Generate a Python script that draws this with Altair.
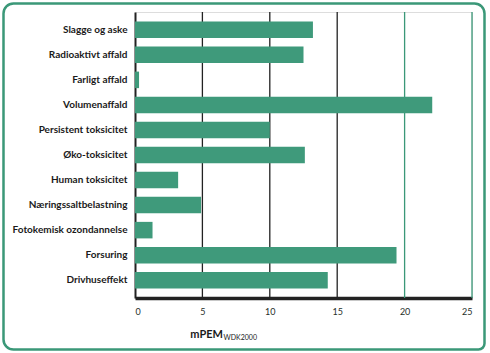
import altair as alt
import pandas as pd

categories = ["Slagge og aske", "Radioaktivt affald", "Farligt affald", "Volumenaffald",
              "Persistent toksicitet", "Øko-toksicitet", "Human toksicitet",
              "Næringssaltbelastning", "Fotokemisk ozondannelse", "Forsuring", "Drivhuseffekt"]
values = [13.2, 12.5, 0.3, 22.05, 10.0, 12.6, 3.2, 4.9, 1.3, 19.4, 14.3]
grid_values = [5, 10, 15, 20, 25]
grid_colors = ["#222222", "#222222", "#222222", "#3b9878", "#3b9878"]
tick_values = [0, 5, 10, 15, 20, 25]

GREEN = "#3f9a7b"
FONT = "Lato"

df = pd.DataFrame({"cat": categories, "val": values})
gdf = pd.DataFrame({"g": grid_values, "c": grid_colors})

xscale = alt.Scale(domain=[0, 25], nice=False, zero=True)

grid = alt.Chart(gdf).mark_rule(strokeWidth=1.3).encode(
    x=alt.X("g:Q", scale=xscale),
    color=alt.Color("c:N", scale=None, legend=None),
)

bars = alt.Chart(df).mark_bar(color=GREEN).encode(
    x=alt.X("val:Q", scale=xscale,
            axis=alt.Axis(values=tick_values, title=None, grid=False, ticks=False,
                          labelFont=FONT, labelFontSize=9, labelColor="#1f2f2a",
                          labelPadding=9, domainColor="#222222", domainWidth=3.5)),
    y=alt.Y("cat:N", sort=categories,
            scale=alt.Scale(paddingInner=0.34, paddingOuter=0.38),
            axis=alt.Axis(title=None, ticks=False, labelFont=FONT, labelFontSize=10,
                          labelFontWeight="bold", labelColor="#1a1a1a", labelPadding=8,
                          domainColor="#222222", domainWidth=2)),
)

one = pd.DataFrame({"a": [0]})
frame = alt.Chart(one).mark_rect(fill=None, stroke="#3b9878", strokeWidth=2.5,
                                 cornerRadiusTopLeft=10, cornerRadiusTopRight=10,
                                 cornerRadiusBottomLeft=10, cornerRadiusBottomRight=6).encode(
    x=alt.value(-131.5), x2=alt.value(349.5), y=alt.value(-8.5), y2=alt.value(337.5)
)

title_main = alt.Chart(one).mark_text(text="mPEM", font=FONT, fontSize=11, fontWeight="bold",
                                      align="right", baseline="alphabetic", color="#1a1a1a").encode(
    x=alt.value(88), y=alt.value(326)
)
title_sub = alt.Chart(one).mark_text(text="WDK2000", font=FONT, fontSize=7,
                                     align="left", baseline="alphabetic", color="#1a1a1a").encode(
    x=alt.value(88.5), y=alt.value(328)
)

chart = alt.layer(grid, bars, frame, title_main, title_sub).properties(
    width=337, height=286,
    autosize=alt.AutoSizeParams(type="none"),
    padding={"left": 135, "top": 12, "right": 18, "bottom": 55},
).configure_view(stroke=None).configure(background="white")

chart.save("out.html", embed_options={"renderer": "svg", "actions": False})
